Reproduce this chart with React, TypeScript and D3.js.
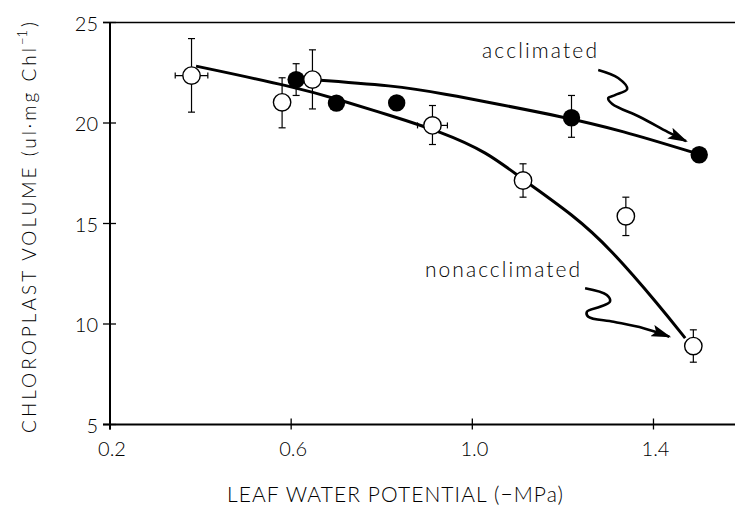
import React from "react"
import * as d3 from "d3"

const width = 735
const height = 506

// open circles: nonacclimated plants
const openX = [0.38, 0.58, 0.647, 0.912, 1.112, 1.339, 1.488]
const openY = [22.36, 21.03, 22.16, 19.88, 17.14, 15.36, 8.9]
const openHi = [24.2, 22.25, 23.64, 20.87, 17.97, 16.31, 9.71]
const openLo = [20.54, 19.76, 20.7, 18.93, 16.31, 14.4, 8.1]
const openXErr = [0.036, 0, 0, 0.033, 0, 0, 0]

// filled circles: acclimated plants
const filledX = [0.611, 0.7, 0.833, 1.219, 1.501]
const filledY = [22.16, 20.99, 21.0, 20.26, 18.42]
const filledHi = [22.95, null, null, 21.37, null]
const filledLo = [21.37, null, null, 19.29, null]

// hand fitted lines
const accCurveX = [0.62, 0.83, 0.95, 1.01, 1.2, 1.326, 1.5]
const accCurveY = [22.2, 21.87, 21.4, 21.14, 20.31, 19.65, 18.45]
const nonCurveX = [0.39, 0.61, 0.7, 0.82, 0.93, 1.032, 1.113, 1.223, 1.304, 1.415, 1.47]
const nonCurveY = [22.83, 21.78, 21.2, 20.37, 19.57, 18.57, 17.16, 15.42, 13.77, 10.86, 9.3]

// squiggly label arrows
const accArrowX = [1.278, 1.322, 1.342, 1.315, 1.3, 1.309, 1.37, 1.432, 1.472]
const accArrowY = [22.64, 22.24, 21.69, 21.39, 21.24, 20.95, 20.3, 19.55, 19.1]
const nonArrowX = [1.249, 1.297, 1.304, 1.282, 1.253, 1.256, 1.312, 1.378, 1.435]
const nonArrowY = [11.78, 11.44, 11.11, 10.86, 10.61, 10.36, 10.11, 9.79, 9.37]

const xTicks = [0.2, 0.6, 1.0, 1.4]
const xTickLabels = ["0.2", "0.6", "1.0", "1.4"]
const yTicks = [5, 10, 15, 20, 25]

const font = "Lato, 'Liberation Sans', sans-serif"

export default function App() {
  const x = d3.scaleLinear().domain([0.2, 1.58]).range([110, 735])
  const y = d3.scaleLinear().domain([5, 25]).range([424.5, 22.5])

  const fit = d3.line<[number, number]>()
    .x(d => x(d[0]))
    .y(d => y(d[1]))
    .curve(d3.curveBasis)

  const smooth = d3.line<[number, number]>()
    .x(d => x(d[0]))
    .y(d => y(d[1]))
    .curve(d3.curveCatmullRom.alpha(0.5))

  const zip = (a: number[], b: number[]) => a.map((v, i) => [v, b[i]] as [number, number])

  const errBar = (cx: number, hi: number | null, lo: number | null, key: string) => {
    if (hi == null || lo == null) return null
    const px = x(cx)
    return (
      <g key={key} stroke="#000" strokeWidth={1.2}>
        <line x1={px} x2={px} y1={y(hi)} y2={y(lo)} />
        <line x1={px - 3.5} x2={px + 3.5} y1={y(hi)} y2={y(hi)} />
        <line x1={px - 3.5} x2={px + 3.5} y1={y(lo)} y2={y(lo)} />
      </g>
    )
  }

  return (
    <svg width={width} height={height} style={{ position: "absolute", left: 0, top: 0, background: "#fff" }}>
      <defs>
        <marker id="ah" viewBox="0 0 20 12" refX={18} refY={6} markerWidth={20} markerHeight={12}
          markerUnits="userSpaceOnUse" orient="auto">
          <path d="M0,0 L20,6 L0,12 L4,6 z" fill="#000" />
        </marker>
      </defs>

      {/* frame / axes */}
      <g stroke="#000" fill="none">
        <line x1={103} x2={width} y1={y(25)} y2={y(25)} strokeWidth={1.5} />
        <line x1={x(0.2)} x2={x(0.2)} y1={y(25)} y2={y(5) + 5} strokeWidth={2} />
        <line x1={103} x2={width} y1={y(5)} y2={y(5)} strokeWidth={2} />
        {yTicks.map(t => (
          <line key={"yt" + t} x1={x(0.2) - 7} x2={x(0.2) + 6} y1={y(t)} y2={y(t)} strokeWidth={1.3} />
        ))}
        {xTicks.map(t => (
          <line key={"xt" + t} x1={x(t)} x2={x(t)} y1={y(5) - 6} y2={y(5) + 5} strokeWidth={1.3} />
        ))}
      </g>

      <g fontFamily={font} fontSize={20} fill="#000" fontWeight={300}>
        {yTicks.map(t => (
          <text key={"yl" + t} x={98} y={y(t)} textAnchor="end" dominantBaseline="central">{t}</text>
        ))}
        {xTicks.map((t, i) => (
          <text key={"xl" + t} x={x(t) + 2} y={456} textAnchor="middle">{xTickLabels[i]}</text>
        ))}
      </g>

      <text x={395} y={502} textAnchor="middle" fontFamily={font} fontSize={21} fontWeight={300}
        textLength={336} lengthAdjust="spacing">LEAF WATER POTENTIAL (−MPa)</text>

      <g transform="translate(29,226) rotate(-90)" fontFamily={font} fill="#000" fontWeight={300}>
        <text x={-207} y={7} fontSize={19} textLength={385} lengthAdjust="spacing">CHLOROPLAST VOLUME  (ul·mg Chl</text>
        <text x={181} y={-2} fontSize={13}>−1</text>
        <text x={199} y={7} fontSize={19}>)</text>
      </g>

      {/* error bars */}
      {openX.map((v, i) => errBar(v, openHi[i], openLo[i], "eo" + i))}
      {filledX.map((v, i) => errBar(v, filledHi[i], filledLo[i], "ef" + i))}
      {openX.map((v, i) => {
        if (!openXErr[i]) return null
        const l = x(v - openXErr[i]), r = x(v + openXErr[i]), py = y(openY[i])
        return (
          <g key={"xe" + i} stroke="#000" strokeWidth={1.2}>
            <line x1={l} x2={r} y1={py} y2={py} />
            <line x1={l} x2={l} y1={py - 3} y2={py + 3} />
            <line x1={r} x2={r} y1={py - 3} y2={py + 3} />
          </g>
        )
      })}

      {/* fitted curves */}
      <path d={fit(zip(accCurveX, accCurveY)) || ""} fill="none" stroke="#000" strokeWidth={3} />
      <path d={fit(zip(nonCurveX, nonCurveY)) || ""} fill="none" stroke="#000" strokeWidth={3} />

      {/* points */}
      {filledX.map((v, i) => (
        <circle key={"f" + i} cx={x(v)} cy={y(filledY[i])} r={8.7} fill="#000" />
      ))}
      {openX.map((v, i) => (
        <circle key={"o" + i} cx={x(v)} cy={y(openY[i])} r={8.7} fill="#fff" stroke="#000" strokeWidth={1.4} />
      ))}

      {/* annotations */}
      <text x={482} y={58} fontFamily={font} fontSize={21} fontWeight={300} textLength={115} lengthAdjust="spacing">acclimated</text>
      <text x={425} y={277} fontFamily={font} fontSize={21} fontWeight={300} textLength={155} lengthAdjust="spacing">nonacclimated</text>
      <path d={smooth(zip(accArrowX, accArrowY)) || ""} fill="none" stroke="#000" strokeWidth={2.6} markerEnd="url(#ah)" />
      <path d={smooth(zip(nonArrowX, nonArrowY)) || ""} fill="none" stroke="#000" strokeWidth={2.6} markerEnd="url(#ah)" />
    </svg>
  )
}
